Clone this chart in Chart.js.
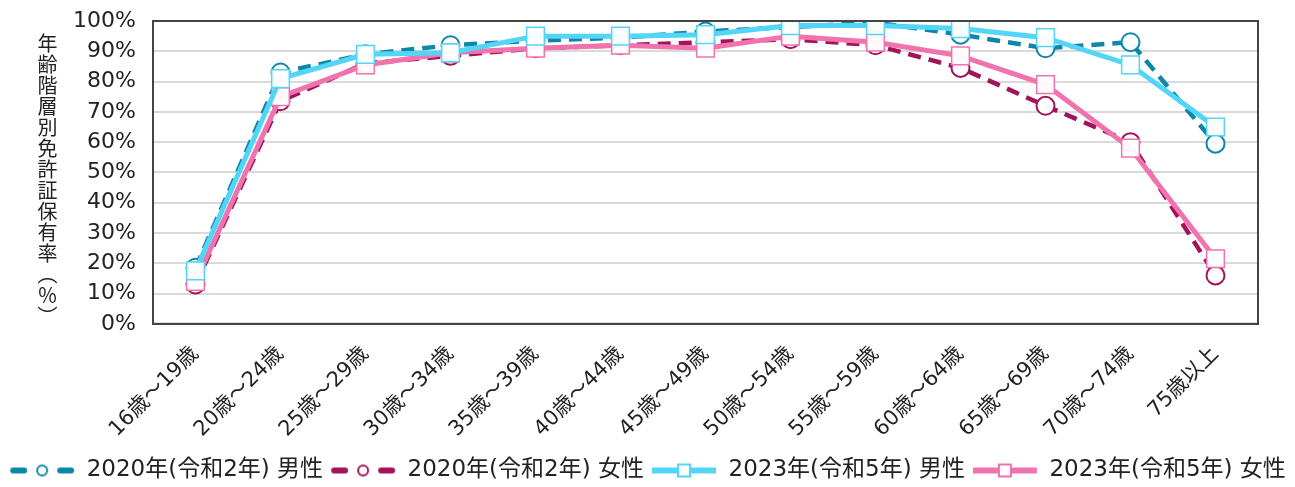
<!DOCTYPE html>
<html>
<head>
<meta charset="utf-8">
<script src="https://cdn.jsdelivr.net/npm/chart.js@4.4.1/dist/chart.umd.min.js"></script>
<style>
  html, body { margin: 0; padding: 0; background: #fff; }
  #wrap { position: relative; width: 1295px; height: 487px; }
  #yTitle {
    position: absolute; left: 34px; top: 33px;
    writing-mode: vertical-rl;
    font-family: "DejaVu Sans", "Noto Sans CJK JP", sans-serif; font-size: 20px; line-height: 24px;
    color: #222; letter-spacing: 1px;
  }
</style>
</head>
<body>
<div id="wrap">
  <canvas id="licenseChart" width="1295" height="487"></canvas>
  <div id="yTitle">年齢階層別免許証保有率（％）</div>
</div>
<script>
const ageGroups = ['16歳～19歳', '20歳～24歳', '25歳～29歳', '30歳～34歳', '35歳～39歳', '40歳～44歳',
  '45歳～49歳', '50歳～54歳', '55歳～59歳', '60歳～64歳', '65歳～69歳', '70歳～74歳', '75歳以上'];

const male2020 = [18.5, 83, 89, 92, 93.5, 94.5, 96.5, 98, 99.5, 95.5, 91, 93, 59.5];
const female2020 = [13, 73.5, 86, 88.5, 91, 92, 93, 94, 92, 84.5, 72, 60, 16];
const male2023 = [17.5, 81, 89, 89.5, 95, 95, 95.5, 98.5, 98.5, 97.5, 94.5, 85.5, 65];
const female2023 = [14, 75, 85.5, 89.5, 91, 92, 91, 95, 93, 88.5, 79, 58, 21.5];

const seriesLabels = ['2020年(令和2年) 男性', '2020年(令和2年) 女性', '2023年(令和5年) 男性', '2023年(令和5年) 女性'];
const yTicks = [0, 10, 20, 30, 40, 50, 60, 70, 80, 90, 100];

const FONT = '"DejaVu Sans", "Noto Sans CJK JP", sans-serif';

// small canvas used as legend symbol: line + marker
function legendIcon(color, dashed, marker) {
  const c = document.createElement('canvas');
  c.width = 66; c.height = 20;
  const g = c.getContext('2d');
  g.strokeStyle = color;
  g.lineCap = dashed ? 'round' : 'butt';
  g.lineWidth = 6;
  g.beginPath();
  if (dashed) {
    g.moveTo(4, 10); g.lineTo(15, 10);
    g.moveTo(51, 10); g.lineTo(62, 10);
  } else {
    g.moveTo(1, 10); g.lineTo(65, 10);
  }
  g.stroke();
  g.lineWidth = 2;
  g.fillStyle = '#fff';
  g.beginPath();
  if (marker === 'circle') {
    g.arc(33, 10, 5, 0, Math.PI * 2);
  } else {
    g.rect(27, 4, 12, 12);
  }
  g.fill();
  g.stroke();
  return c;
}

const colors = ['#0D86A8', '#A3135C', '#52D5F7', '#F173AE'];

const plotBorder = {
  id: 'plotBorder',
  afterDraw(chart) {
    const { ctx, chartArea: a } = chart;
    ctx.save();
    ctx.strokeStyle = '#444';
    ctx.lineWidth = 2;
    ctx.strokeRect(a.left, a.top, a.right - a.left, a.bottom - a.top);
    ctx.restore();
  }
};

function makeDataset(i, data, dashed, marker) {
  return {
    label: seriesLabels[i],
    data: data,
    borderColor: colors[i],
    backgroundColor: '#fff',
    borderWidth: dashed ? 4.5 : 5,
    borderDash: dashed ? [13, 8] : [],
    pointStyle: marker,
    pointRadius: marker === 'circle' ? 9 : 12.5,
    pointBorderWidth: marker === 'circle' ? 2 : 1.5,
    pointBackgroundColor: 'rgba(255,255,255,0.95)',
    pointBorderColor: colors[i],
    tension: 0,
    order: dashed ? 2 : 1,
    legendIcon: legendIcon(colors[i], dashed, marker)
  };
}

new Chart(document.getElementById('licenseChart'), {
  type: 'line',
  data: {
    labels: ageGroups,
    datasets: [
      makeDataset(0, male2020, true, 'circle'),
      makeDataset(1, female2020, true, 'circle'),
      makeDataset(2, male2023, false, 'rect'),
      makeDataset(3, female2023, false, 'rect')
    ]
  },
  options: {
    responsive: false,
    animation: false,
    layout: { padding: { left: 0, right: 0, top: 21, bottom: -5 } },
    plugins: {
      tooltip: { enabled: false },
      legend: {
        position: 'bottom',
        labels: {
          usePointStyle: true,
          pointStyleWidth: 66,
          boxHeight: 20,
          padding: 7,
          color: '#222',
          font: { family: FONT, size: 23 },
          sort: (a, b) => a.datasetIndex - b.datasetIndex,
          generateLabels(chart) {
            return chart.data.datasets.map((ds, i) => ({
              text: ds.label,
              pointStyle: ds.legendIcon,
              fillStyle: '#fff',
              strokeStyle: ds.borderColor,
              lineWidth: 0,
              hidden: false,
              datasetIndex: i,
              fontColor: '#222'
            }));
          }
        }
      }
    },
    scales: {
      x: {
        offset: true,
        grid: { display: false },
        border: { color: '#444', width: 2 },
        ticks: {
          color: '#222',
          font: { family: FONT, size: 21 },
          maxRotation: 45, minRotation: 45,
          autoSkip: false,
          padding: 10
        }
      },
      y: {
        min: 0, max: 100,
        afterBuildTicks(axis) { axis.ticks = yTicks.map(v => ({ value: v })); },
        afterFit(axis) { axis.width = 153; axis.paddingTop = 0; axis.paddingBottom = 0; },
        grid: { color: '#d9d9d9', lineWidth: 2, drawTicks: false },
        border: { color: '#444', width: 2 },
        ticks: {
          color: '#222',
          padding: 17,
          autoSkip: false,
          font: { family: FONT, size: 22 },
          callback: v => v + '%'
        }
      },
      yRight: {
        position: 'right',
        min: 0, max: 100,
        grid: { display: false },
        border: { display: false },
        ticks: { display: false },
        afterFit(axis) { axis.width = 37; axis.paddingTop = 0; axis.paddingBottom = 0; }
      }
    }
  },
  plugins: [plotBorder]
});
</script>
</body>
</html>
